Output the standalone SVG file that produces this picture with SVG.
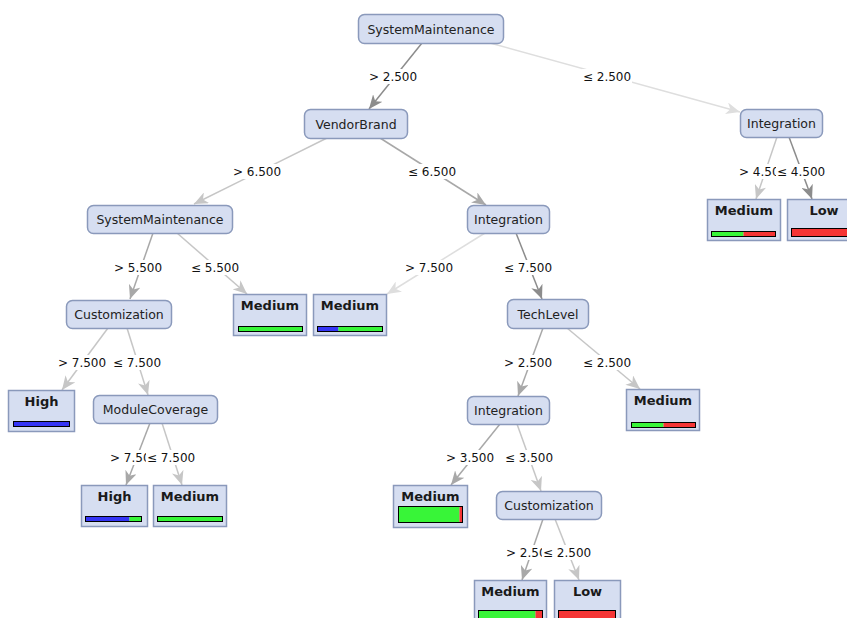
<svg xmlns="http://www.w3.org/2000/svg" width="847" height="618" viewBox="0 0 847 618">
<style>
.nd{fill:#d6def1;stroke:#8a99bb;stroke-width:1.5}
.nt{font-family:"DejaVu Sans","Liberation Sans",sans-serif;font-size:12.5px;fill:#222;text-anchor:middle}
.lt{font-family:"DejaVu Sans","Liberation Sans",sans-serif;font-size:13px;font-weight:bold;fill:#1a1a1a;text-anchor:middle}
.bar{fill:none;stroke:#000;stroke-width:1}
.bl{fill:#3535f5}.gr{fill:#38f538}.rd{fill:#f53535}
.e{fill:none;stroke-width:1.5}
.dk{stroke:#8c8c8c}.md{stroke:#a8a8a8}.li{stroke:#c6c6c6}.vl{stroke:#dedede}
.el{font-family:"DejaVu Sans","Liberation Sans",sans-serif;font-size:12px;fill:#111}
.bg{fill:#fff}
</style>
<defs>
<marker id="a-dk" markerUnits="userSpaceOnUse" markerWidth="15" markerHeight="12" refX="14" refY="6" orient="auto"><path d="M0,0 L14,6 L0,12 L4,6 z" fill="#8c8c8c"/></marker>
<marker id="a-md" markerUnits="userSpaceOnUse" markerWidth="15" markerHeight="12" refX="14" refY="6" orient="auto"><path d="M0,0 L14,6 L0,12 L4,6 z" fill="#a8a8a8"/></marker>
<marker id="a-li" markerUnits="userSpaceOnUse" markerWidth="15" markerHeight="12" refX="14" refY="6" orient="auto"><path d="M0,0 L14,6 L0,12 L4,6 z" fill="#c6c6c6"/></marker>
<marker id="a-vl" markerUnits="userSpaceOnUse" markerWidth="15" markerHeight="12" refX="14" refY="6" orient="auto"><path d="M0,0 L14,6 L0,12 L4,6 z" fill="#dedede"/></marker>
</defs>
<rect width="847" height="618" fill="#fff"/>

<g id="connectors">
<g id="edge-lines">
<line class="e dk" x1="422" y1="43" x2="369" y2="109" marker-end="url(#a-dk)"/>
<line class="e vl" x1="490" y1="43" x2="740" y2="112" marker-end="url(#a-vl)"/>
<line class="e li" x1="327" y1="138" x2="194" y2="204" marker-end="url(#a-li)"/>
<line class="e md" x1="380" y1="138" x2="486" y2="205" marker-end="url(#a-md)"/>
<line class="e li" x1="777" y1="137" x2="756" y2="199" marker-end="url(#a-li)"/>
<line class="e dk" x1="789" y1="137" x2="812" y2="199" marker-end="url(#a-dk)"/>
<line class="e md" x1="153" y1="233" x2="130" y2="299" marker-end="url(#a-md)"/>
<line class="e li" x1="177" y1="233" x2="247" y2="294" marker-end="url(#a-li)"/>
<line class="e vl" x1="485" y1="233" x2="387" y2="294" marker-end="url(#a-vl)"/>
<line class="e dk" x1="516" y1="233" x2="542" y2="299" marker-end="url(#a-dk)"/>
<line class="e li" x1="108" y1="328" x2="62" y2="390" marker-end="url(#a-li)"/>
<line class="e li" x1="127" y1="328" x2="148" y2="395" marker-end="url(#a-li)"/>
<line class="e md" x1="150" y1="423" x2="126" y2="485" marker-end="url(#a-md)"/>
<line class="e li" x1="162" y1="423" x2="182" y2="485" marker-end="url(#a-li)"/>
<line class="e md" x1="543" y1="328" x2="518" y2="396" marker-end="url(#a-md)"/>
<line class="e li" x1="567" y1="328" x2="640" y2="389" marker-end="url(#a-li)"/>
<line class="e md" x1="500" y1="424" x2="451" y2="485" marker-end="url(#a-md)"/>
<line class="e li" x1="517" y1="424" x2="541" y2="491" marker-end="url(#a-li)"/>
<line class="e md" x1="543" y1="519" x2="522" y2="580" marker-end="url(#a-md)"/>
<line class="e li" x1="555" y1="519" x2="579" y2="580" marker-end="url(#a-li)"/>
</g>
<g id="edge-labels">
<rect class="bg" x="368" y="69" width="50" height="15"/><text class="el" x="393" y="81" text-anchor="middle">&gt; 2.500</text>
<rect class="bg" x="582" y="69" width="50" height="15"/><text class="el" x="607" y="81" text-anchor="middle">≤ 2.500</text>
<rect class="bg" x="232" y="164" width="50" height="15"/><text class="el" x="257" y="176" text-anchor="middle">&gt; 6.500</text>
<rect class="bg" x="407" y="164" width="50" height="15"/><text class="el" x="432" y="176" text-anchor="middle">≤ 6.500</text>
<rect class="bg" x="738" y="164" width="50" height="15"/><text class="el" x="739" y="176">&gt; 4.500</text>
<rect class="bg" x="776" y="164" width="51" height="15"/><text class="el" x="777" y="176">≤ 4.500</text>
<rect class="bg" x="113" y="260" width="50" height="15"/><text class="el" x="138" y="272" text-anchor="middle">&gt; 5.500</text>
<rect class="bg" x="190" y="260" width="50" height="15"/><text class="el" x="215" y="272" text-anchor="middle">≤ 5.500</text>
<rect class="bg" x="404" y="260" width="50" height="15"/><text class="el" x="429" y="272" text-anchor="middle">&gt; 7.500</text>
<rect class="bg" x="503" y="260" width="50" height="15"/><text class="el" x="528" y="272" text-anchor="middle">≤ 7.500</text>
<rect class="bg" x="57" y="355" width="50" height="15"/><text class="el" x="82" y="367" text-anchor="middle">&gt; 7.500</text>
<rect class="bg" x="112" y="355" width="50" height="15"/><text class="el" x="137" y="367" text-anchor="middle">≤ 7.500</text>
<rect class="bg" x="503" y="355" width="50" height="15"/><text class="el" x="528" y="367" text-anchor="middle">&gt; 2.500</text>
<rect class="bg" x="582" y="355" width="50" height="15"/><text class="el" x="607" y="367" text-anchor="middle">≤ 2.500</text>
<rect class="bg" x="109" y="450" width="50" height="15"/><text class="el" x="110" y="462">&gt; 7.500</text>
<rect class="bg" x="146" y="450" width="51" height="15"/><text class="el" x="147" y="462">≤ 7.500</text>
<rect class="bg" x="445" y="450" width="50" height="15"/><text class="el" x="470" y="462" text-anchor="middle">&gt; 3.500</text>
<rect class="bg" x="504" y="450" width="50" height="15"/><text class="el" x="529" y="462" text-anchor="middle">≤ 3.500</text>
<rect class="bg" x="505" y="545" width="50" height="15"/><text class="el" x="506" y="557">&gt; 2.500</text>
<rect class="bg" x="542" y="545" width="51" height="15"/><text class="el" x="543" y="557">≤ 2.500</text>
</g>
</g>

<g id="node-root"><rect class="nd" x="358.5" y="14.5" width="145" height="29" rx="6"/><text class="nt" x="431" y="33.5">SystemMaintenance</text></g>
<g id="node-vendorbrand"><rect class="nd" x="304.5" y="109.5" width="103" height="29" rx="6"/><text class="nt" x="356" y="128.5">VendorBrand</text></g>
<g id="node-integration-1"><rect class="nd" x="740.5" y="109.5" width="82" height="28" rx="6"/><text class="nt" x="781.5" y="128">Integration</text></g>
<g id="node-systemmaintenance-2"><rect class="nd" x="87.5" y="205.5" width="145" height="28" rx="6"/><text class="nt" x="160" y="224">SystemMaintenance</text></g>
<g id="node-integration-2"><rect class="nd" x="467.5" y="205.5" width="82" height="28" rx="6"/><text class="nt" x="508.5" y="224">Integration</text></g>
<g id="node-customization-1"><rect class="nd" x="66.5" y="300.5" width="105" height="28" rx="6"/><text class="nt" x="119" y="319">Customization</text></g>
<g id="node-techlevel"><rect class="nd" x="507.5" y="299.5" width="81" height="29" rx="6"/><text class="nt" x="548" y="318.5">TechLevel</text></g>
<g id="node-modulecoverage"><rect class="nd" x="93.5" y="395.5" width="124" height="28" rx="6"/><text class="nt" x="155.5" y="414">ModuleCoverage</text></g>
<g id="node-integration-3"><rect class="nd" x="467.5" y="396.5" width="82" height="28" rx="6"/><text class="nt" x="508.5" y="415">Integration</text></g>
<g id="node-customization-2"><rect class="nd" x="496.5" y="491.5" width="105" height="28" rx="6"/><text class="nt" x="549" y="510">Customization</text></g>

<g id="leaf-medium-1"><rect class="nd" x="707.5" y="199.5" width="73" height="41"/><text class="lt" x="744" y="215">Medium</text>
<rect class="gr" x="711.5" y="231.5" width="32" height="5"/><rect class="rd" x="743.5" y="231.5" width="32" height="5"/><rect class="bar" x="711.5" y="231.5" width="64" height="5"/></g>
<g id="leaf-low-1"><rect class="nd" x="787.5" y="199.5" width="73" height="41"/><text class="lt" x="824" y="215">Low</text>
<rect class="rd" x="791.5" y="228.5" width="65" height="8"/><rect class="bar" x="791.5" y="228.5" width="65" height="8"/></g>
<g id="leaf-medium-2"><rect class="nd" x="233.5" y="294.5" width="73" height="41"/><text class="lt" x="270" y="310">Medium</text>
<rect class="gr" x="238.5" y="326.5" width="64" height="5"/><rect class="bar" x="238.5" y="326.5" width="64" height="5"/></g>
<g id="leaf-medium-3"><rect class="nd" x="313.5" y="294.5" width="73" height="41"/><text class="lt" x="350" y="310">Medium</text>
<rect class="bl" x="317.5" y="326.5" width="21" height="5"/><rect class="gr" x="338.5" y="326.5" width="44" height="5"/><rect class="bar" x="317.5" y="326.5" width="65" height="5"/></g>
<g id="leaf-high-1"><rect class="nd" x="8.5" y="390.5" width="66" height="41"/><text class="lt" x="41.5" y="406">High</text>
<rect class="bl" x="13.5" y="421.5" width="56" height="5"/><rect class="bar" x="13.5" y="421.5" width="56" height="5"/></g>
<g id="leaf-medium-4"><rect class="nd" x="626.5" y="389.5" width="73" height="41"/><text class="lt" x="663" y="405">Medium</text>
<rect class="gr" x="631.5" y="422.5" width="32" height="5"/><rect class="rd" x="663.5" y="422.5" width="32" height="5"/><rect class="bar" x="631.5" y="422.5" width="64" height="5"/></g>
<g id="leaf-high-2"><rect class="nd" x="81.5" y="485.5" width="66" height="41"/><text class="lt" x="114.5" y="501">High</text>
<rect class="bl" x="85.5" y="516.5" width="44" height="5"/><rect class="gr" x="129.5" y="516.5" width="12" height="5"/><rect class="bar" x="85.5" y="516.5" width="56" height="5"/></g>
<g id="leaf-medium-5"><rect class="nd" x="153.5" y="485.5" width="73" height="41"/><text class="lt" x="190" y="501">Medium</text>
<rect class="gr" x="157.5" y="516.5" width="65" height="5"/><rect class="bar" x="157.5" y="516.5" width="65" height="5"/></g>
<g id="leaf-medium-6"><rect class="nd" x="393.5" y="485.5" width="74" height="42"/><text class="lt" x="430.5" y="501">Medium</text>
<rect class="gr" x="398.5" y="506.5" width="61" height="16"/><rect class="rd" x="459.5" y="506.5" width="3" height="16"/><rect class="bar" x="398.5" y="506.5" width="64" height="16"/></g>
<g id="leaf-medium-7"><rect class="nd" x="474.5" y="580.5" width="72" height="45"/><text class="lt" x="510.5" y="596">Medium</text>
<rect class="gr" x="478.5" y="610.5" width="57" height="9"/><rect class="rd" x="535.5" y="610.5" width="7" height="9"/><rect class="bar" x="478.5" y="610.5" width="64" height="9"/></g>
<g id="leaf-low-2"><rect class="nd" x="554.5" y="580.5" width="66" height="45"/><text class="lt" x="587.5" y="596">Low</text>
<rect class="rd" x="558.5" y="610.5" width="57" height="9"/><rect class="bar" x="558.5" y="610.5" width="57" height="9"/></g>
</svg>
